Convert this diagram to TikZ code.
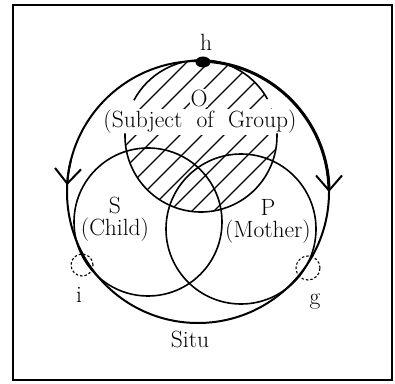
\documentclass[tikz,border=0pt]{standalone}
\usetikzlibrary{arrows.meta}
\begin{document}
\begin{tikzpicture}[x=1pt,y=1pt,
  ring/.style={line width=1.6pt},
  situ/.style={line width=2pt},
  hatch/.style={line width=1.1pt},
  dashring/.style={line width=1.1pt, dash pattern=on 2.5pt off 2pt},
  lbl/.style={font=\fontsize{23.5}{22}\selectfont, inner sep=1pt, align=center},
  tip/.style={situ, -{Straight Barb[length=15pt,width=26pt,line width=2pt]}}]
\useasboundingbox (0,0) rectangle (395,383);
\draw[line width=1.8pt] (13,3) rectangle (392,378);
% hatching of O
\begin{scope}
  \clip (201,247) circle (76);
  \foreach \c in {-154,-132,...,154}
    \draw[hatch] (91,{137+\c}) -- (311,{357+\c});
\end{scope}
% labels with white background inside O
\node[lbl, fill=white] (Olbl) at (199,285) {O};
\node[lbl, fill=white] (subj) at (200,261) {(Subject\ \ of\ \ Group)};
% circle O (broken by the text)
\draw[ring] (201,247) ++(29:76) arc (29:152:76);
\draw[ring] (201,247) ++(178:76) arc (178:362:76);
% S and P
\draw[ring] (148,161) circle (74);
\draw[ring] (241,154) circle (75);
% Situ
\draw[situ] (198,191) circle (131);
\draw[line width=3pt] (198,191) ++(86:131) arc (86:2:131);
\draw[tip] (198,191) ++(166:131) arc (166:177:131);
\draw[tip] (198,191) ++(12:131) arc (12:0:131);
\fill (203,321) ellipse (7.5 and 5.5);
% dashed loops
\draw[dashring] (82,118) circle (11);
\draw[dashring] (308,115) circle (12);
% labels
\node[lbl] (h) at (206,341) {h};
\node[lbl] (child) at (115,164) {S\\(Child)};
\node[lbl] (mother) at (268,162) {P\\(Mother)};
\node[lbl] (i) at (79,88) {i};
\node[lbl] (g) at (315,81) {g};
\node[lbl] (situlbl) at (190,44) {Situ};
\end{tikzpicture}
\end{document}
